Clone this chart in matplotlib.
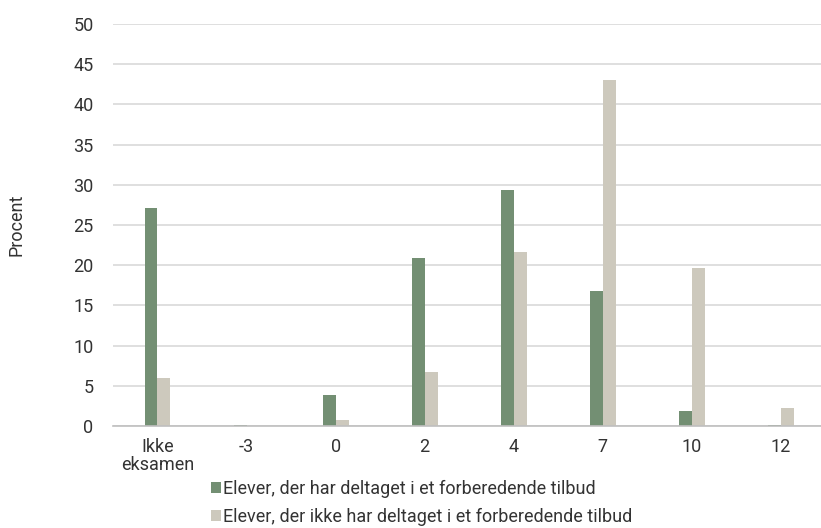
import matplotlib.pyplot as plt
import numpy as np

plt.rcParams['font.family'] = ['Roboto', 'DejaVu Sans']

# Karakterfordeling
karakterer = ['Ikke\neksamen', '-3', '0', '2', '4', '7', '10', '12']
deltaget = [27.1, 0.1, 3.8, 20.9, 29.4, 16.8, 1.9, 0.1]
ikke_deltaget = [6.0, 0.0, 0.7, 6.7, 21.7, 43.0, 19.7, 2.2]
serie_navne = ['Elever, der har deltaget i et forberedende tilbud',
               'Elever, der ikke har deltaget i et forberedende tilbud']
farver = ['#738f73', '#cdc9bd']
tekst = '#333333'

fig = plt.figure(figsize=(8.21, 5.28), dpi=100)
ax = fig.add_axes([0.1376, 0.1932, 0.8624, 0.7613])

x = np.arange(len(karakterer))
b = 0.145
ax.bar(x - b / 2, deltaget, b, color=farver[0], label=serie_navne[0], zorder=3)
ax.bar(x + b / 2, ikke_deltaget, b, color=farver[1], label=serie_navne[1], zorder=3)

ax.set_xlim(-0.5, 7.45)
ax.set_ylim(0, 50)
ax.set_yticks(range(0, 51, 5))
ax.set_xticks(x)
ax.set_xticklabels(karakterer, linespacing=0.95)
ax.tick_params(axis='both', length=0, labelsize=13, colors=tekst)
ax.tick_params(axis='y', pad=14)
ax.tick_params(axis='x', pad=9)
ax.grid(axis='y', color='#d9d9d9', linewidth=1.2, zorder=0)
for s in ['top', 'right', 'left']:
    ax.spines[s].set_visible(False)
ax.spines['bottom'].set_color('#bfbfbf')
ax.spines['bottom'].set_linewidth(1.2)
ax.spines['bottom'].set_zorder(4)

fig.text(0.02, 0.574, 'Procent', rotation=90, ha='center', va='center',
         fontsize=13, color=tekst)

fig.legend(loc='upper left', bbox_to_anchor=(0.248, 0.105), frameon=False,
           fontsize=13, handlelength=0.55, handleheight=0.55, handletextpad=0.15,
           labelspacing=0.55, borderaxespad=0, labelcolor=tekst)

plt.savefig('out.png', dpi=100)
